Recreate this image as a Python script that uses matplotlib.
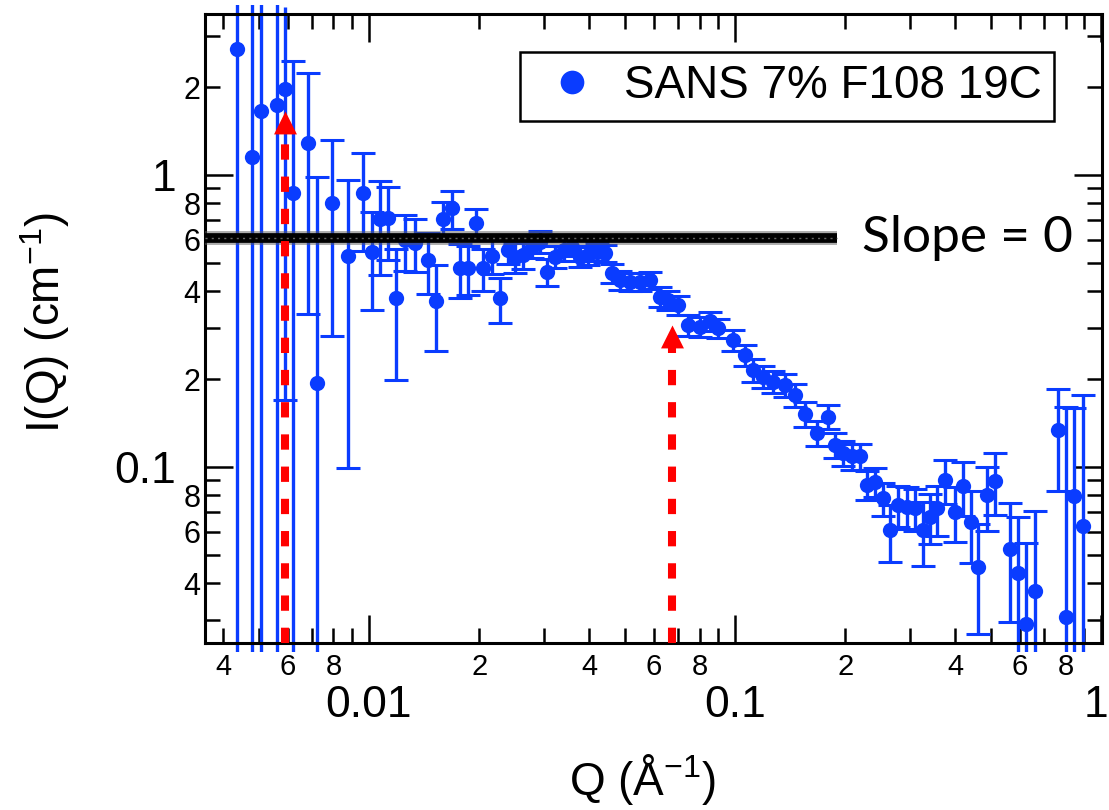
import matplotlib
matplotlib.use("Agg")
import matplotlib.pyplot as plt
from matplotlib.path import Path
from matplotlib.ticker import FixedLocator, FixedFormatter
from matplotlib.transforms import Bbox, TransformedBbox, ScaledTranslation

# ---------------- data ----------------
q = [0.00435, 0.00478, 0.00506, 0.00560, 0.00590, 0.00621, 0.00683, 0.00720,
     0.00794, 0.00878, 0.00965, 0.0102, 0.01072, 0.01129, 0.01185, 0.01254,
     0.01336, 0.01452, 0.01525, 0.01596, 0.01683, 0.01774, 0.01868, 0.01960,
     0.02052, 0.02163, 0.0228, 0.0240, 0.0251, 0.0264, 0.0278, 0.0293,
     0.0306, 0.0322, 0.0340, 0.0358, 0.0377, 0.0397, 0.0419, 0.0442,
     0.0462, 0.0485, 0.0517, 0.0550, 0.0586, 0.0624, 0.0658, 0.0700,
     0.0746, 0.0802, 0.0855, 0.0901, 0.0989, 0.1065, 0.1122, 0.1195,
     0.1273, 0.1370, 0.1459, 0.155, 0.167, 0.180, 0.1875, 0.1977,
     0.2085, 0.2196, 0.229, 0.2413, 0.2541, 0.2652, 0.2794, 0.2944,
     0.310, 0.327, 0.341, 0.3557, 0.375, 0.399, 0.4188, 0.4406,
     0.4624, 0.4869, 0.5134, 0.564, 0.594, 0.6237, 0.660, 0.764,
     0.8024, 0.8435, 0.890]
intensity = [2.70, 1.155, 1.66, 1.74, 1.97, 0.870, 1.284, 0.1935,
             0.80, 0.529, 0.870, 0.546, 0.705, 0.711, 0.378, 0.60,
             0.585, 0.511, 0.371, 0.707, 0.769, 0.479, 0.479, 0.687,
             0.479, 0.528, 0.378, 0.554, 0.523, 0.532, 0.568, 0.591,
             0.467, 0.525, 0.554, 0.568, 0.525, 0.532, 0.546, 0.539,
             0.460, 0.437, 0.431, 0.431, 0.437, 0.383, 0.373, 0.359,
             0.306, 0.302, 0.315, 0.2985, 0.272, 0.242, 0.215, 0.204,
             0.196, 0.191, 0.1765, 0.152, 0.131, 0.1487, 0.119, 0.1114,
             0.109, 0.109, 0.0868, 0.0891, 0.0781, 0.0608, 0.0741, 0.0731,
             0.0722, 0.0608, 0.0676, 0.0722, 0.0902, 0.0703, 0.0861, 0.065,
             0.0453, 0.0802, 0.0898, 0.0524, 0.0432, 0.029, 0.0377, 0.1339,
             0.0307, 0.0796, 0.063]
err = [3.0, 3.0, 2.5, 2.5, 1.80, 1.59, 0.95, 0.79,
       0.52, 0.43, 0.32, 0.20, 0.25, 0.20, 0.18, 0.13,
       0.12, 0.12, 0.122, 0.10, 0.115, 0.10, 0.09, 0.076,
       0.08, 0.07, 0.066, 0.06, 0.06, 0.055, 0.05, 0.05,
       0.05, 0.045, 0.045, 0.042, 0.04, 0.04, 0.038, 0.036,
       0.035, 0.033, 0.032, 0.031, 0.03, 0.03, 0.028, 0.027,
       0.025, 0.024, 0.024, 0.023, 0.022, 0.02, 0.019, 0.018,
       0.017, 0.017, 0.016, 0.015, 0.013, 0.014, 0.012, 0.011,
       0.011, 0.011, 0.010, 0.010, 0.010, 0.0135, 0.012, 0.012,
       0.012, 0.015, 0.013, 0.014, 0.0155, 0.015, 0.018, 0.018,
       0.0186, 0.020, 0.0215, 0.023, 0.024, 0.026, 0.033, 0.051,
       0.13, 0.08, 0.114]
series_label = "SANS 7% F108 19C"

# flat fit line (slope = 0)
slope_q = [0.00356, 0.19]
slope_level = [0.607, 0.607]
slope_text = "Slope = 0"
slope_text_pos = (0.2223, 0.607)

# red arrows
arrow_q = [0.00590, 0.0671]
arrow_tip = [1.66, 0.306]
arrow_base = [1.39, 0.2547]

# axes ranges and ticks
x_lim = (0.003565, 1.006)
y_lim = (0.02495, 3.558)
x_major = [0.01, 0.1, 1]
x_major_labels = ["0.01", "0.1", "1"]
x_minor = [0.004, 0.005, 0.006, 0.007, 0.008, 0.009,
           0.02, 0.03, 0.04, 0.05, 0.06, 0.07, 0.08, 0.09,
           0.2, 0.3, 0.4, 0.5, 0.6, 0.7, 0.8, 0.9]
x_minor_labels = ["4", "", "6", "", "8", "",
                  "2", "", "4", "", "6", "", "8", "",
                  "2", "", "4", "", "6", "", "8", ""]
y_major = [0.1, 1]
y_major_labels = ["0.1", "1"]
y_minor = [0.03, 0.04, 0.05, 0.06, 0.07, 0.08, 0.09,
           0.2, 0.3, 0.4, 0.5, 0.6, 0.7, 0.8, 0.9, 2, 3]
y_minor_labels = ["", "4", "", "6", "", "8", "",
                  "2", "", "4", "", "6", "", "8", "", "2", ""]

# ---------------- style ----------------
plt.rcParams["font.family"] = ["Liberation Sans", "DejaVu Sans"]
plt.rcParams["mathtext.fontset"] = "custom"
plt.rcParams["mathtext.rm"] = "Liberation Sans"
plt.rcParams["mathtext.it"] = "Liberation Sans:italic"
plt.rcParams["mathtext.default"] = "regular"

blue = "#0a3cff"
W, H = 1109, 810
fig = plt.figure(figsize=(W / 100, H / 100), dpi=100)
ax = fig.add_axes([205 / W, 1 - 643 / H, (1102 - 205) / W, (643 - 14) / H])
ax.set_xscale("log")
ax.set_yscale("log")
ax.set_xlim(*x_lim)
ax.set_ylim(*y_lim)

# error bars (allowed to run slightly past the frame as in the reference)
eb = ax.errorbar(q, intensity, yerr=err, fmt="none", ecolor=blue,
                 elinewidth=2.4, capsize=8.3, capthick=2.2, zorder=2)
clip = TransformedBbox(Bbox([[0, -0.015], [1, 1.015]]), ax.transAxes)
for lc in eb.lines[2]:
    lc.set_clip_path(None)
    lc.set_clip_box(clip)
ax.plot(q, intensity, "o", color=blue, ms=11, mec="none", zorder=3,
        label=series_label)

# slope = 0 line
ax.plot(slope_q, slope_level, color="0.35", lw=10, alpha=0.5,
        solid_capstyle="butt", zorder=4)
ax.plot(slope_q, slope_level, color="black", lw=7,
        solid_capstyle="butt", zorder=4.1)
ax.plot(slope_q, slope_level, color="0.4", lw=1.0, dashes=(1.5, 3.0),
        zorder=4.2)
ax.text(slope_text_pos[0], slope_text_pos[1], slope_text, fontsize=37,
        family=["Lato", "DejaVu Sans"], ha="left", va="center", zorder=6)

# red dashed arrows
head = Path([(0, 0), (-0.5, -1), (0.5, -1), (0, 0)],
            [Path.MOVETO, Path.LINETO, Path.LINETO, Path.CLOSEPOLY])
for qa, tip, base in zip(arrow_q, arrow_tip, arrow_base):
    ax.plot([qa, qa], [y_lim[0], base], color="red", lw=5.8,
            dashes=(1.9, 2.1), dash_capstyle="butt", zorder=5)
    ax.plot([qa], [tip], marker=head, ms=33, color="red", mec="none",
            zorder=5)

# ticks
ax.xaxis.set_major_locator(FixedLocator(x_major))
ax.xaxis.set_major_formatter(FixedFormatter(x_major_labels))
ax.xaxis.set_minor_locator(FixedLocator(x_minor))
ax.xaxis.set_minor_formatter(FixedFormatter(x_minor_labels))
ax.yaxis.set_major_locator(FixedLocator(y_major))
ax.yaxis.set_major_formatter(FixedFormatter(y_major_labels))
ax.yaxis.set_minor_locator(FixedLocator(y_minor))
ax.yaxis.set_minor_formatter(FixedFormatter(y_minor_labels))

ax.tick_params(which="both", direction="in", top=True, right=True,
               width=1.8, color="black")
ax.tick_params(which="major", length=20)
ax.tick_params(which="minor", length=10.5)
ax.tick_params(axis="x", which="major", labelsize=32, pad=30)
ax.tick_params(axis="x", which="minor", labelsize=21, pad=7)
ax.tick_params(axis="y", which="major", labelsize=32, pad=21)
ax.tick_params(axis="y", which="minor", labelsize=22, pad=3.5)
for s in ax.spines.values():
    s.set_linewidth(2.2)

# keep the "1" at the right end inside the canvas
last = ax.xaxis.get_major_ticks()[2].label1
last.set_transform(last.get_transform()
                   + ScaledTranslation(-4 / 72, 0, fig.dpi_scale_trans))

ax.set_xlabel("Q (Å$^{-1}$)", fontsize=33)
ax.set_ylabel("I(Q) (cm$^{-1}$)", fontsize=33)
ax.xaxis.set_label_coords(0.488, -0.173)
ax.yaxis.set_label_coords(-0.148, 0.51)

leg = ax.legend(loc="upper left", bbox_to_anchor=(0.351, 0.9396),
                borderaxespad=0, fontsize=33, markerscale=1.55,
                frameon=True, fancybox=False, edgecolor="black",
                framealpha=1, borderpad=0.27, handlelength=1.75,
                handletextpad=0.25, numpoints=1)
leg.get_frame().set_linewidth(1.8)
leg.set_zorder(10)

fig.savefig("out.png", dpi=100)
